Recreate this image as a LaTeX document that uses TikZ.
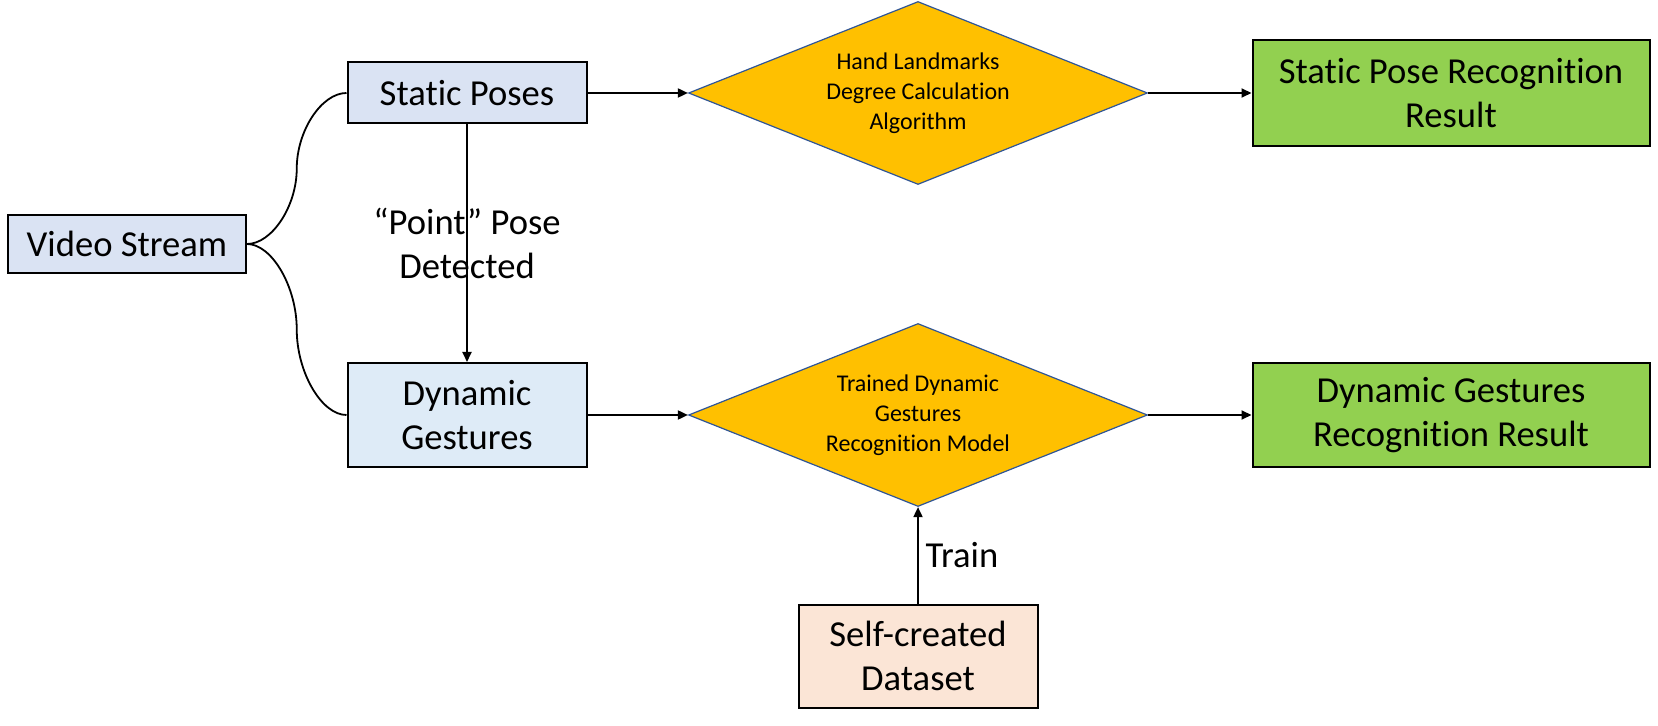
\documentclass[tikz,border=0pt]{standalone}
\usepackage{fontspec}
\setmainfont{Carlito}[Ligatures={NoCommon}]
\usetikzlibrary{calc, arrows.meta, shapes.geometric}

\definecolor{inputblue}{RGB}{218,227,243}
\definecolor{gestblue}{RGB}{222,235,247}
\definecolor{algoyellow}{RGB}{255,192,0}
\definecolor{algoline}{RGB}{47,85,151}
\definecolor{resultgreen}{RGB}{146,208,80}
\definecolor{datapeach}{RGB}{251,229,214}

\begin{document}
\begin{tikzpicture}[x=0.5pt,y=0.5pt,
  box/.style={draw,line width=1pt,inner sep=2pt,align=center,font=\fontsize{18.3}{22}\selectfont},
  algo/.style={diamond,draw=algoline,line width=0.6pt,fill=algoyellow,aspect=2.5,inner sep=0pt,
    minimum width=229.5pt,minimum height=91.5pt,align=center,font=\fontsize{12}{15}\selectfont},
  flow/.style={line width=0.9pt,-{Triangle[length=5pt,width=4.5pt]}},
  lbl/.style={align=center,font=\fontsize{18.3}{22}\selectfont}]

\useasboundingbox (0,0) rectangle (1658,-726);

\node [box,fill=inputblue,minimum width=119pt,minimum height=29pt] (vs) at (127,-244) {Video Stream};
\node [box,fill=inputblue,minimum width=119.5pt,minimum height=30.5pt] (sp) at (467,-93) {Static Poses};
\node [box,fill=gestblue,minimum width=119.5pt,minimum height=52pt,node distance=161pt,below of=sp] (dg) {Dynamic\\Gestures};

\node [algo,node distance=225.5pt,right of=sp] (hand) {Hand Landmarks\\Degree Calculation\\Algorithm};
\node [algo,node distance=225.5pt,right of=dg] (model) {Trained Dynamic\\Gestures\\Recognition Model};

\node [box,fill=resultgreen,minimum width=198.5pt,minimum height=53pt,node distance=266.5pt,right of=hand] (sres) {Static Pose Recognition\\Result};
\node [box,fill=resultgreen,minimum width=198.5pt,minimum height=52pt,node distance=266.5pt,right of=model] (dres) {Dynamic Gestures\\Recognition Result};

\node [box,fill=datapeach,minimum width=119.5pt,minimum height=51.5pt,node distance=120.5pt,below of=model] (data) {Self-created\\Dataset};

% split of the video stream
\coordinate (m1) at ($(vs.east)!.5!(sp.west)$);
\coordinate (m2) at ($(vs.east)!.5!(dg.west)$);
\draw [line width=0.9pt] (vs.east) .. controls ($(vs.east)!.5!(vs.east -| m1)$) and ($(m1)!.5!(m1 |- vs.east)$) .. (m1)
  .. controls ($(m1)!.5!(m1 |- sp.west)$) and ($(sp.west)!.5!(sp.west -| m1)$) .. (sp.west);
\draw [line width=0.9pt] (vs.east) .. controls ($(vs.east)!.5!(vs.east -| m2)$) and ($(m2)!.5!(m2 |- vs.east)$) .. (m2)
  .. controls ($(m2)!.5!(m2 |- dg.west)$) and ($(dg.west)!.5!(dg.west -| m2)$) .. (dg.west);

\draw [flow] (sp) -- node [lbl] {“Point” Pose\\Detected} (dg);
\draw [flow] (sp) -- (hand);
\draw [flow] (hand) -- (sres);
\draw [flow] (dg) -- (model);
\draw [flow] (model) -- (dres);
\draw [flow] (data) -- node [lbl,right] {Train} (model);
\end{tikzpicture}
\end{document}
